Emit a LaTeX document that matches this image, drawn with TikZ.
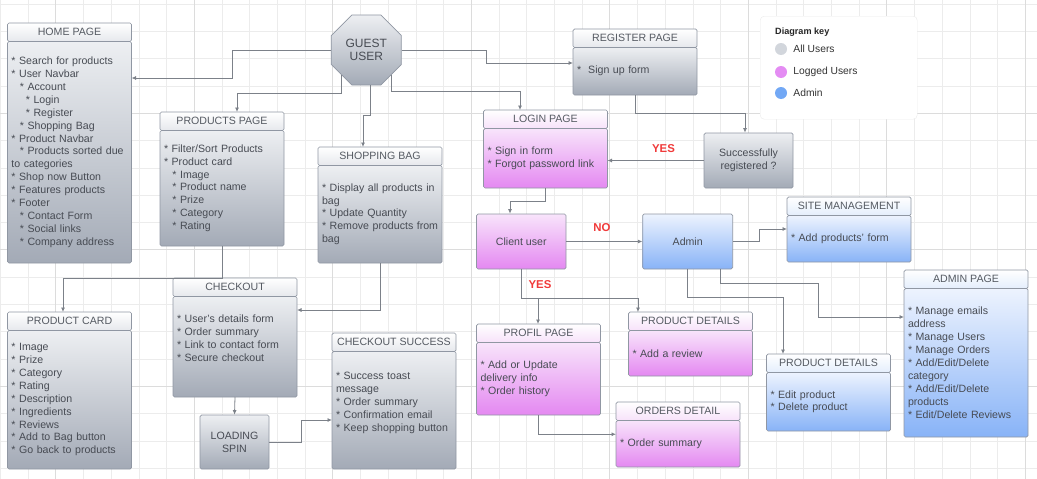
\documentclass[tikz,border=0pt]{standalone}
\usepackage{fontspec}
\setmainfont{Liberation Sans}
\usetikzlibrary{positioning}
\usetikzlibrary{shapes.geometric,arrows.meta}

\definecolor{gridC}{HTML}{ECECEC}
\definecolor{gridD}{HTML}{DCDCDC}
\definecolor{lineC}{HTML}{7C8189}
\definecolor{borderC}{HTML}{9097A3}
\definecolor{txtC}{HTML}{474B53}
\definecolor{headC}{HTML}{555A62}
\definecolor{grayHead}{HTML}{E6E8EC}
\definecolor{grayTop}{HTML}{EDEFF2}
\definecolor{grayBot}{HTML}{A3AAB6}
\definecolor{pinkHead}{HTML}{F7E2FA}
\definecolor{pinkTop}{HTML}{F8E4FB}
\definecolor{pinkBot}{HTML}{E488F1}
\definecolor{blueHead}{HTML}{E4EEFC}
\definecolor{blueTop}{HTML}{EDF3FE}
\definecolor{blueBot}{HTML}{88B3F7}
\definecolor{noteRed}{HTML}{F03A3A}
\definecolor{keyBorder}{HTML}{EBEBEB}
\definecolor{dotGray}{HTML}{D2D6DC}
\definecolor{dotPink}{HTML}{E48CF3}
\definecolor{dotBlue}{HTML}{72A8F5}

\newcommand{\bodyfont}{\fontsize{10.6}{12.9}\selectfont}
\newcommand{\ind}{\hspace*{8.4pt}}
\newcommand{\indd}{\hspace*{14.4pt}}

\begin{document}
\begin{tikzpicture}[x=1pt,y=-1pt,
  gridline/.style={draw=gridC,line width=0.6pt},
  gridmajor/.style={draw=gridD,line width=0.6pt},
  head/.style={draw=borderC,line width=0.7pt,rounded corners=1.5pt,minimum width=124pt,
    minimum height=18.5pt,inner sep=0pt,outer sep=0pt,font=\bodyfont,text=headC,anchor=north west},
  body/.style={draw=borderC,line width=0.7pt,rounded corners=1.5pt,text width=116pt,
    inner xsep=4pt,inner ysep=0pt,outer sep=0pt,align=left,font=\bodyfont,text=txtC,below=0pt of #1},
  hgray/.style={head,top color=white,bottom color=grayHead},
  hpink/.style={head,top color=white,bottom color=pinkHead},
  hblue/.style={head,top color=white,bottom color=blueHead},
  bgray/.style={body=#1,top color=grayTop,bottom color=grayBot},
  bpink/.style={body=#1,top color=pinkTop,bottom color=pinkBot},
  bblue/.style={body=#1,top color=blueTop,bottom color=blueBot},
  plain/.style={draw=borderC,line width=0.7pt,rounded corners=1.5pt,inner sep=0pt,
    align=center,font=\bodyfont,text=txtC},
  guestshape/.style={regular polygon,regular polygon sides=8,minimum size=75.8pt,inner sep=0pt,
    draw=borderC,line width=0.7pt,top color=grayTop,bottom color=grayBot,align=center,
    font=\fontsize{12}{13.7}\selectfont,text=txtC},
  answer/.style={font=\bfseries\fontsize{11.4}{13}\selectfont,text=noteRed,inner sep=0pt},
  keydot/.style={circle,minimum size=12pt,inner sep=0pt,fill=#1},
  keytext/.style={font=\fontsize{10.3}{12}\selectfont,text=black!80,inner sep=0pt},
  conn/.style={draw=lineC,line width=0.8pt,->,>={Latex[length=4.5pt,width=4pt]}}]

  \useasboundingbox (0,0) rectangle (1037,479);

  % grid
  \foreach \i in {0,...,37}
    \draw[gridline] ({0.3+27.7*\i},0) -- ({0.3+27.7*\i},479);
  \foreach \j in {0,...,17}
    \draw[gridline] (0,{4+27.3*\j}) -- (1037,{4+27.3*\j});
  \foreach \gx in {55.7,194.2,332.7,471.2,609.7,748.2,886.7,1025.2}
    \draw[gridmajor] (\gx,0) -- (\gx,479);
  \foreach \gy in {113.2,249.7,386.2}
    \draw[gridmajor] (0,\gy) -- (1037,\gy);

  % guest
  \node[guestshape] (guest) at (366.3,50) {GUEST\\USER};

  % 1. gray pages
  \node[hgray] (homeT) at (7.5,23) {HOME PAGE};
  \node[bgray=homeT,minimum height=221.5pt] (homeB)
   {{*} Search for products\\
    {*} User Navbar\\
    \ind {*} Account\\
    \indd {*} Login\\
    \indd {*} Register\\
    \ind {*} Shopping Bag\\
    {*} Product Navbar\\
    \ind {*} Products sorted due\\
    to categories\\
    {*} Shop now Button\\
    {*} Features products\\
    {*} Footer\\
    \ind {*} Contact Form\\
    \ind {*} Social links\\
    \ind {*} Company address};

  \node[hgray] (prodT) at (160,112) {PRODUCTS PAGE};
  \node[bgray=prodT,minimum height=115.5pt] (prodB)
   {{*} Filter/Sort Products\\
    {*} Product card\\
    \ind {*} Image\\
    \ind {*} Product name\\
    \ind {*} Prize\\
    \ind {*} Category\\
    \ind {*} Rating};

  \node[hgray] (bagT) at (318,147) {SHOPPING BAG};
  \node[bgray=bagT,minimum height=97.5pt] (bagB)
   {\mbox{{*} Display all products in}\\
    bag\\
    {*} Update Quantity\\
    \mbox{{*} Remove products from}\\
    bag};

  \node[hgray] (regT) at (573,29) {REGISTER PAGE};
  \node[bgray=regT,minimum height=47.5pt] (regB) {{*}\ \ Sign up form};

  \node[plain,top color=grayTop,bottom color=grayBot,minimum width=89pt,minimum height=55pt]
    (regq) at (748.5,160.5) {Successfully\\registered ?};

  \node[hgray] (cardT) at (7.5,312) {PRODUCT CARD};
  \node[bgray=cardT,minimum height=138.5pt] (cardB)
   {{*} Image\\
    {*} Prize\\
    {*} Category\\
    {*} Rating\\
    {*} Description\\
    {*} Ingredients\\
    {*} Reviews\\
    {*} Add to Bag button\\
    {*} Go back to products};

  \node[hgray] (chkT) at (173,278) {CHECKOUT};
  \node[bgray=chkT,minimum height=100.5pt] (chkB)
   {{*} User's details form\\
    {*} Order summary\\
    {*} Link to contact form\\
    {*} Secure checkout\\
    \strut};

  \node[plain,top color=grayTop,bottom color=grayBot,minimum width=69pt,minimum height=54pt]
    (load) at (234.5,442) {LOADING\\SPIN};

  \node[hgray] (sucT) at (332,333) {CHECKOUT SUCCESS};
  \node[bgray=sucT,minimum height=117.5pt] (sucB)
   {{*} Success toast\\
    message\\
    {*} Order summary\\
    {*} Confirmation email\\
    \mbox{{*} Keep shopping button}\\
    \strut};

  % 2. logged users
  \node[hpink] (loginT) at (483.5,110) {LOGIN PAGE};
  \node[bpink=loginT,minimum height=59.5pt] (loginB)
   {{*} Sign in form\\
    {*} Forgot password link};

  \node[plain,top color=pinkTop,bottom color=pinkBot,minimum width=89.5pt,minimum height=55pt]
    (client) at (521.25,241.5) {Client user};

  \node[hpink] (profT) at (476.5,324) {PROFIL PAGE};
  \node[bpink=profT,minimum height=72.5pt] (profB)
   {{*} Add or Update\\
    delivery info\\
    {*} Order history};

  \node[hpink] (pdpT) at (628.5,312) {PRODUCT DETAILS};
  \node[bpink=pdpT,minimum height=45.5pt] (pdpB) {{*} Add a review};

  \node[hpink] (ordT) at (616,402) {ORDERS DETAIL};
  \node[bpink=ordT,minimum height=46.5pt] (ordB) {{*} Order summary};

  % 3. admin
  \node[plain,top color=blueTop,bottom color=blueBot,minimum width=90pt,minimum height=55pt]
    (admin) [right=76pt of client] {Admin};

  \node[hblue] (siteT) at (787,197) {SITE MANAGEMENT};
  \node[bblue=siteT,minimum height=46.5pt] (siteB) {{*} Add products' form};

  \node[hblue] (pdbT) at (766.5,354) {PRODUCT DETAILS};
  \node[bblue=pdbT,minimum height=58.5pt] (pdbB)
   {{*} Edit product\\
    {*} Delete product};

  \node[hblue] (admT) at (904,270) {ADMIN PAGE};
  \node[bblue=admT,minimum height=148.5pt] (admB)
   {{*} Manage emails\\
    address\\
    {*} Manage Users\\
    {*} Manage Orders\\
    {*} Add/Edit/Delete\\
    category\\
    {*} Add/Edit/Delete\\
    products\\
    {*} Edit/Delete Reviews};

  % key
  \node[draw=keyBorder,fill=white,rounded corners=4pt,minimum width=157pt,minimum height=103pt,
    anchor=north west] (key) at (760,16) {};
  \node[font=\bfseries\fontsize{9.1}{11}\selectfont,text=black!85,inner sep=0pt,anchor=west]
    (keyT) at (775,32) {Diagram key};
  \node[keydot=dotGray] (k1) at (781,49) {};
  \node[keydot=dotPink] (k2) at (781,72) {};
  \node[keydot=dotBlue] (k3) at (781,93) {};
  \node[keytext,right=6pt of k1] {All Users};
  \node[keytext,right=6pt of k2] {Logged Users};
  \node[keytext,right=6pt of k3] {Admin};

  % answers
  \node[answer] (yes1) at (663.5,149) {YES};
  \node[answer] (no1) at (602,228) {NO};
  \node[answer] (yes2) at (540,285) {YES};

  % turning points
  \coordinate (t1) at (232,78);
  \coordinate (t2) at (237,93);
  \coordinate (t3) at (363,115);
  \coordinate (t4) at (486,63);
  \coordinate (t5) at (520,91);
  \coordinate (t6) at (745,113);
  \coordinate (t8) at (510,201);
  \coordinate (t10) at (759,229);
  \coordinate (t11) at (538,298);
  \coordinate (t12) at (638,298);
  \coordinate (t14) at (783,297);
  \coordinate (t15) at (818,283);
  \coordinate (t15b) at (818,317);
  \coordinate (t16) at (63,278);
  \coordinate (t19) at (301,420);

  \draw[conn] (guest.west) -| (t1) -- (t1 -| homeB.east);
  \draw[conn] (guest.south west) |- (t2) -- (t2 |- prodT.north);
  \draw[conn] ([xshift=4pt]guest.south) |- (t3) -- (t3 |- bagT.north);
  \draw[conn] (guest.east) -| (t4) -- (t4 -| regB.west);
  \draw[conn] (guest.south east) |- (t5) -- (t5 |- loginT.north);
  \draw[conn] (regB.south) |- (t6) -- (t6 |- regq.north);
  \draw[conn] (regq.west) -- (regq.west -| loginB.east);
  \draw[conn] (loginB.south) |- (t8) -- (t8 |- client.north);
  \draw[conn] (client.east) -- (admin.west);
  \draw[conn] (admin.east) -| (t10) -- (t10 -| siteB.west);
  \draw[conn] (client.south) |- (t11) -- (t11 |- profT.north);
  \draw[conn] (client.south) |- (t12) -- (t12 |- pdpT.north);
  \draw[conn] (profB.south) |- ([yshift=9.5pt]ordB.west);
  \draw[conn] (admin.south) |- (t14) -- (t14 |- pdbT.north);
  \draw[conn] ([xshift=32.5pt]admin.south) |- (t15) -- (t15b) -- (t15b -| admB.west);
  \draw[conn] (prodB.south) |- (t16) -- (t16 |- cardT.north);
  \draw[conn] (bagB.south) |- ([yshift=36.75pt]chkB.east);
  \draw[conn] (chkB.south) -- (load.north);
  \draw[conn] (load.east) -| (t19) -- (t19 -| sucB.west);

\end{tikzpicture}
\end{document}
